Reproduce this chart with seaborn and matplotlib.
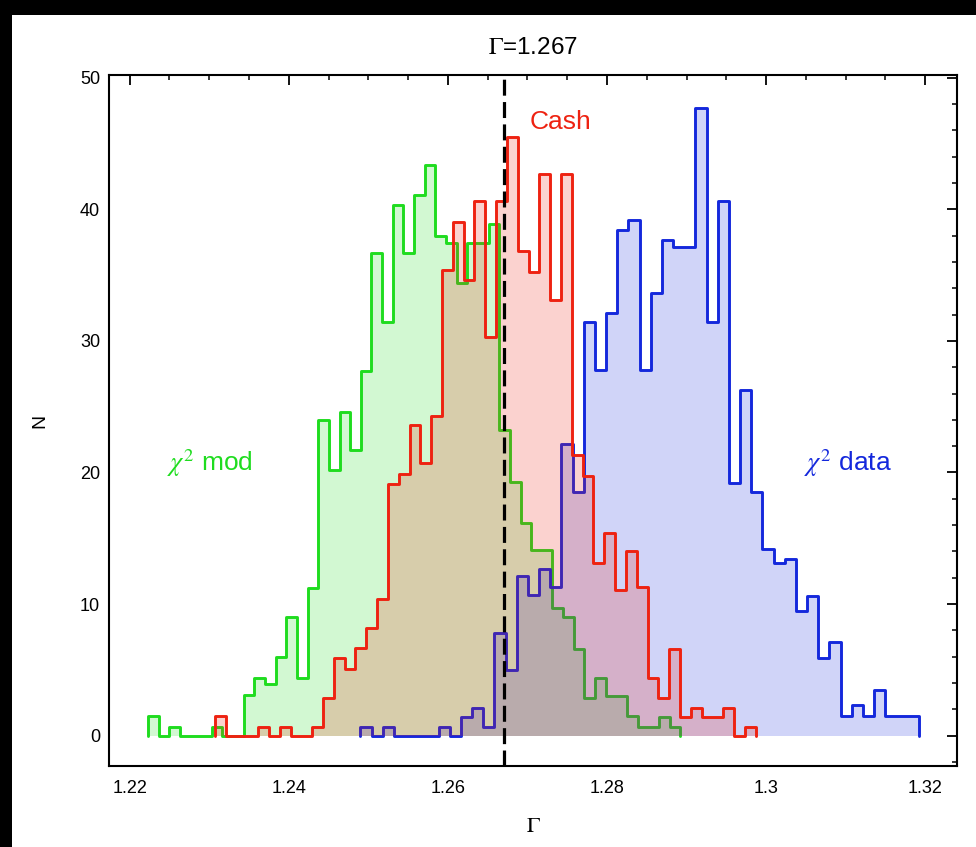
import numpy as np
import pandas as pd
import matplotlib
matplotlib.use("Agg")
import matplotlib.pyplot as plt
from matplotlib.patches import Rectangle
from matplotlib.ticker import MultipleLocator, FixedLocator, FixedFormatter
import seaborn as sns

# ---------------- data ----------------
# each histogram: 50 bins between its own min and max of Gamma
mod_range = (1.2223, 1.2892)
cash_range = (1.2307, 1.2987)
data_range = (1.2490, 1.3192)

chi2_mod = [1.5, 0, 0.7, 0, 0, 0, 0.7, 0, 0, 3.1,
            4.4, 3.9, 6.0, 9.0, 4.4, 11.2, 24.0, 20.2, 24.6, 21.7,
            27.7, 36.7, 31.4, 40.3, 36.7, 41.1, 43.4, 38.0, 37.4, 34.4,
            37.4, 37.4, 38.9, 23.2, 19.3, 16.2, 14.1, 14.1, 9.7, 9.0,
            6.6, 2.9, 4.4, 3.0, 3.0, 1.5, 0.7, 0.7, 1.4, 0.7]
cash = [1.5, 0, 0, 0, 0.7, 0, 0.7, 0, 0, 0.7,
        2.9, 5.9, 5.1, 6.7, 8.2, 10.4, 19.1, 19.9, 23.6, 20.7,
        24.3, 35.4, 39.0, 34.6, 40.6, 30.3, 40.6, 45.5, 36.8, 35.2,
        42.7, 33.1, 42.7, 21.3, 19.7, 13.1, 15.4, 11.1, 14.0, 11.3,
        4.4, 2.9, 6.6, 1.4, 2.1, 1.4, 1.4, 2.1, 0, 0.7]
chi2_data = [0.7, 0, 0.7, 0, 0, 0, 0, 0.7, 0, 1.45,
             2.1, 0.7, 7.8, 5.0, 12.1, 10.7, 12.7, 11.3, 22.2, 18.5,
             31.4, 27.8, 32.1, 38.4, 39.2, 27.8, 33.6, 37.7, 37.1, 37.1,
             47.7, 31.4, 40.6, 19.2, 26.3, 18.5, 14.2, 13.1, 13.4, 9.5,
             10.6, 5.9, 7.1, 1.5, 2.35, 1.5, 3.5, 1.5, 1.5, 1.5]

gamma_best = 1.267
xtick_values = [1.22, 1.24, 1.26, 1.28, 1.3, 1.32]
xtick_labels = ["1.22", "1.24", "1.26", "1.28", "1.3", "1.32"]
ytick_values = [0, 10, 20, 30, 40, 50]
ytick_labels = ["0", "10", "20", "30", "40", "50"]

# drawing order: chi2 mod, chi2 data, Cash (each outline, then its translucent fill)
series = [
    ("mod", mod_range, chi2_mod, "#1fdc1f", r"$\chi^2$ mod", (1.2301, 20.7)),
    ("data", data_range, chi2_data, "#1428dc", r"$\chi^2$ data", (1.3103, 20.7)),
    ("cash", cash_range, cash, "#ee2211", "Cash", (1.2741, 46.6)),
]

# ---------------- style ----------------
sns.set_theme(style="white")
plt.rcParams["font.family"] = ["Liberation Sans", "DejaVu Sans"]
plt.rcParams["mathtext.fontset"] = "stix"

fig = plt.figure(figsize=(9.76, 8.47), dpi=100)
fig.patch.set_facecolor("black")
fig.patches.append(Rectangle((12 / 976, 0), 1, (847 - 15) / 847,
                             transform=fig.transFigure, facecolor="white",
                             edgecolor="none", zorder=-5))
ax = fig.add_axes([109 / 976, 1 - 766 / 847, (957 - 109) / 976, (766 - 75) / 847])
ax.set_facecolor("white")

for i, (name, rng, vals, col, lab, pos) in enumerate(series):
    v = np.asarray(vals, dtype=float)
    edges = np.linspace(rng[0], rng[1], len(v) + 1)
    xs = np.concatenate([[edges[0]], edges, [edges[-1]]])
    ys = np.concatenate([[0.0], v, [v[-1]], [0.0]])
    sns.lineplot(x=xs, y=ys, estimator=None, sort=False, color=col,
                 linewidth=2.1, drawstyle="steps-post", ax=ax, zorder=2 + 2 * i)
    df = pd.DataFrame({"gamma": 0.5 * (edges[:-1] + edges[1:]), "n": v})
    sns.histplot(data=df, x="gamma", weights="n", bins=[float(e) for e in edges],
                 element="step", fill=True, alpha=0.2, linewidth=0, color=col,
                 ax=ax, zorder=3 + 2 * i)

for name, rng, vals, col, lab, pos in series:
    ax.text(pos[0], pos[1], lab, color=col, fontsize=19, ha="center",
            va="center", zorder=12)

ax.axvline(gamma_best, color="black", linestyle=(0, (5, 2)), linewidth=2.3, zorder=11)

ax.set_xlim(1.2174, 1.3240)
ax.set_ylim(-2.3, 50.2)

ax.xaxis.set_major_locator(FixedLocator(xtick_values))
ax.xaxis.set_major_formatter(FixedFormatter(xtick_labels))
ax.xaxis.set_minor_locator(MultipleLocator(0.005))
ax.yaxis.set_major_locator(FixedLocator(ytick_values))
ax.yaxis.set_major_formatter(FixedFormatter(ytick_labels))
ax.yaxis.set_minor_locator(MultipleLocator(2))

ax.tick_params(which="both", direction="in", top=True, right=True,
               colors="black", labelsize=13)
ax.tick_params(which="major", length=7, width=1.3)
ax.tick_params(which="minor", length=3.8, width=1.1)
ax.tick_params(axis="x", which="major", pad=10)
ax.tick_params(axis="y", which="major", pad=6.5)
for sp in ax.spines.values():
    sp.set_color("black")
    sp.set_linewidth(1.5)

ax.set_xlabel(r"$\Gamma$", fontsize=16, labelpad=14, color="black")
ax.set_ylabel("N", fontsize=14, labelpad=23, color="black")
ax.set_title(r"$\Gamma$=1.267", fontsize=17.5, pad=15, color="black")

fig.savefig("out.png", dpi=100, facecolor=fig.get_facecolor())
